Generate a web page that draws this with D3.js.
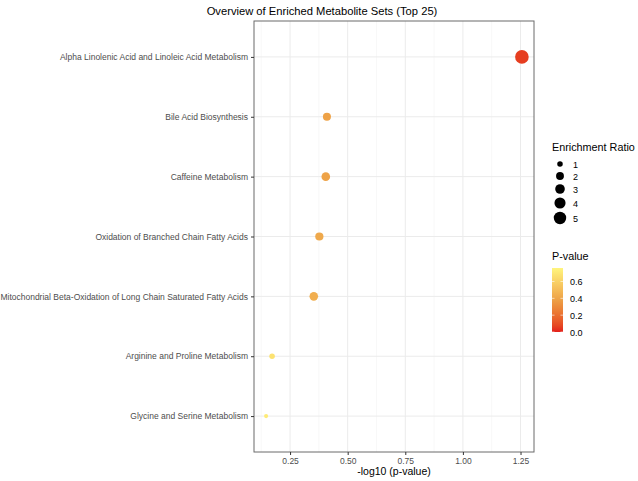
<!DOCTYPE html>
<html><head><meta charset="utf-8">
<script src="https://cdn.jsdelivr.net/npm/d3@7"></script>
<style>body{margin:0;background:#fff;} text{font-family:"Liberation Sans",Arial,sans-serif;}</style>
</head><body>
<svg id="c" width="638" height="481"></svg>
<script>
const categories = [
  "Alpha Linolenic Acid and Linoleic Acid Metabolism",
  "Bile Acid Biosynthesis",
  "Caffeine Metabolism",
  "Oxidation of Branched Chain Fatty Acids",
  "Mitochondrial Beta-Oxidation of Long Chain Saturated Fatty Acids",
  "Arginine and Proline Metabolism",
  "Glycine and Serine Metabolism"
];
const logP = [1.256, 0.410, 0.405, 0.377, 0.353, 0.172, 0.146];
const enrichment = [6.0, 2.1, 2.4, 2.2, 2.4, 1.0, 0.55];
const pValues = logP.map(v => Math.pow(10, -v));
const xTicks = [0.25, 0.50, 0.75, 1.00, 1.25];
const xMinor = [0.125, 0.375, 0.625, 0.875, 1.125];
const sizeBreaks = [1, 2, 3, 4, 5];
const pBreaks = [0.0, 0.2, 0.4, 0.6];

const svg = d3.select("#c");
const L = 254, R = 534, T = 21, B = 452;

const x = d3.scaleLinear().domain([0.0935, 1.3085]).range([L, R]);
const y = d3.scalePoint().domain(categories).range([T, B]).padding(0.6);
const r = d3.scaleSqrt().domain([0, 6]).range([0, 6.8]);
const pMax = 0.76;
const colScale = d3.scaleLinear().domain([0, 0.5, 1])
  .range(["#E3201B", "#EDA046", "#FFF57E"]).interpolate(d3.interpolateLab);
const color = v => colScale(Math.min(1, v / pMax));

svg.append("rect").attr("x", L).attr("y", T).attr("width", R - L).attr("height", B - T).attr("fill", "#fff");

svg.append("g").selectAll("line").data(xMinor).join("line")
  .attr("x1", d => x(d)).attr("x2", d => x(d)).attr("y1", T).attr("y2", B)
  .attr("stroke", "#f4f4f4").attr("stroke-width", 0.6);
svg.append("g").selectAll("line").data(xTicks).join("line")
  .attr("x1", d => x(d)).attr("x2", d => x(d)).attr("y1", T).attr("y2", B)
  .attr("stroke", "#ebebeb").attr("stroke-width", 1);
svg.append("g").selectAll("line").data(categories).join("line")
  .attr("x1", L).attr("x2", R).attr("y1", d => y(d)).attr("y2", d => y(d))
  .attr("stroke", "#ebebeb").attr("stroke-width", 1);

const data = categories.map((c, i) => ({c, x: logP[i], e: enrichment[i], p: pValues[i]}));
svg.append("g").selectAll("circle").data(data).join("circle")
  .attr("cx", d => x(d.x)).attr("cy", d => y(d.c)).attr("r", d => r(d.e))
  .attr("fill", d => color(d.p));

svg.append("rect").attr("x", L).attr("y", T).attr("width", R - L).attr("height", B - T)
  .attr("fill", "none").attr("stroke", "#6b6b6b").attr("stroke-width", 1);

const xAxis = d3.axisBottom(x).tickValues(xTicks).tickFormat(d3.format(".2f")).tickSize(3).tickPadding(3);
const gx = svg.append("g").attr("transform", `translate(0,${B})`).call(xAxis);
gx.select(".domain").remove();
gx.selectAll("line").attr("stroke", "#333");
gx.selectAll("text").attr("fill", "#4d4d4d").style("font-size", "8.5px");

const yAxis = d3.axisLeft(y).tickSize(3).tickPadding(3);
const gy = svg.append("g").attr("transform", `translate(${L},0)`).call(yAxis);
gy.select(".domain").remove();
gy.selectAll("line").attr("stroke", "#333");
gy.selectAll("text").attr("fill", "#4d4d4d").style("font-size", "8.5px");

svg.append("text").attr("x", 322).attr("y", 15).attr("text-anchor", "middle")
  .style("font-size", "11.2px").attr("fill", "#000").text("Overview of Enriched Metabolite Sets (Top 25)");
svg.append("text").attr("x", (L + R) / 2).attr("y", 475).attr("text-anchor", "middle")
  .style("font-size", "10.5px").attr("fill", "#000").text("-log10 (p-value)");

svg.append("text").attr("x", 552).attr("y", 151).style("font-size", "10.8px").attr("fill", "#000").text("Enrichment Ratio");
const sizeY = [164, 176, 189, 203, 218];
const lg = svg.append("g");
lg.selectAll("circle").data(sizeBreaks).join("circle")
  .attr("cx", 560).attr("cy", (d, i) => sizeY[i]).attr("r", d => r(d)).attr("fill", "#000");
lg.selectAll("text").data(sizeBreaks).join("text")
  .attr("x", 573).attr("y", (d, i) => sizeY[i] + 3.5).style("font-size", "9px").attr("fill", "#000").text(d => d);

svg.append("text").attr("x", 552).attr("y", 260).style("font-size", "10.8px").attr("fill", "#000").text("P-value");
const cbTop = 268, cbBot = 332;
const cy = d3.scaleLinear().domain([0, pMax]).range([cbBot, cbTop]);
const defs = svg.append("defs");
const grad = defs.append("linearGradient").attr("id", "pg").attr("x1", 0).attr("x2", 0).attr("y1", 1).attr("y2", 0);
d3.range(0, 1.0001, 0.1).forEach(t => grad.append("stop").attr("offset", t).attr("stop-color", colScale(t)));
svg.append("rect").attr("x", 552).attr("y", cbTop).attr("width", 11).attr("height", cbBot - cbTop).attr("fill", "url(#pg)");
const cg = svg.append("g");
cg.selectAll("line.l").data(pBreaks).join("line").attr("class", "l")
  .attr("x1", 552).attr("x2", 554.5).attr("y1", d => cy(d)).attr("y2", d => cy(d)).attr("stroke", "#fff").attr("stroke-width", 0.6);
cg.selectAll("line.r").data(pBreaks).join("line").attr("class", "r")
  .attr("x1", 560.5).attr("x2", 563).attr("y1", d => cy(d)).attr("y2", d => cy(d)).attr("stroke", "#fff").attr("stroke-width", 0.6);
cg.selectAll("text").data(pBreaks).join("text")
  .attr("x", 570).attr("y", d => cy(d) + 3.5).style("font-size", "9px").attr("fill", "#000").text(d => d3.format(".1f")(d));
</script>
</body></html>
